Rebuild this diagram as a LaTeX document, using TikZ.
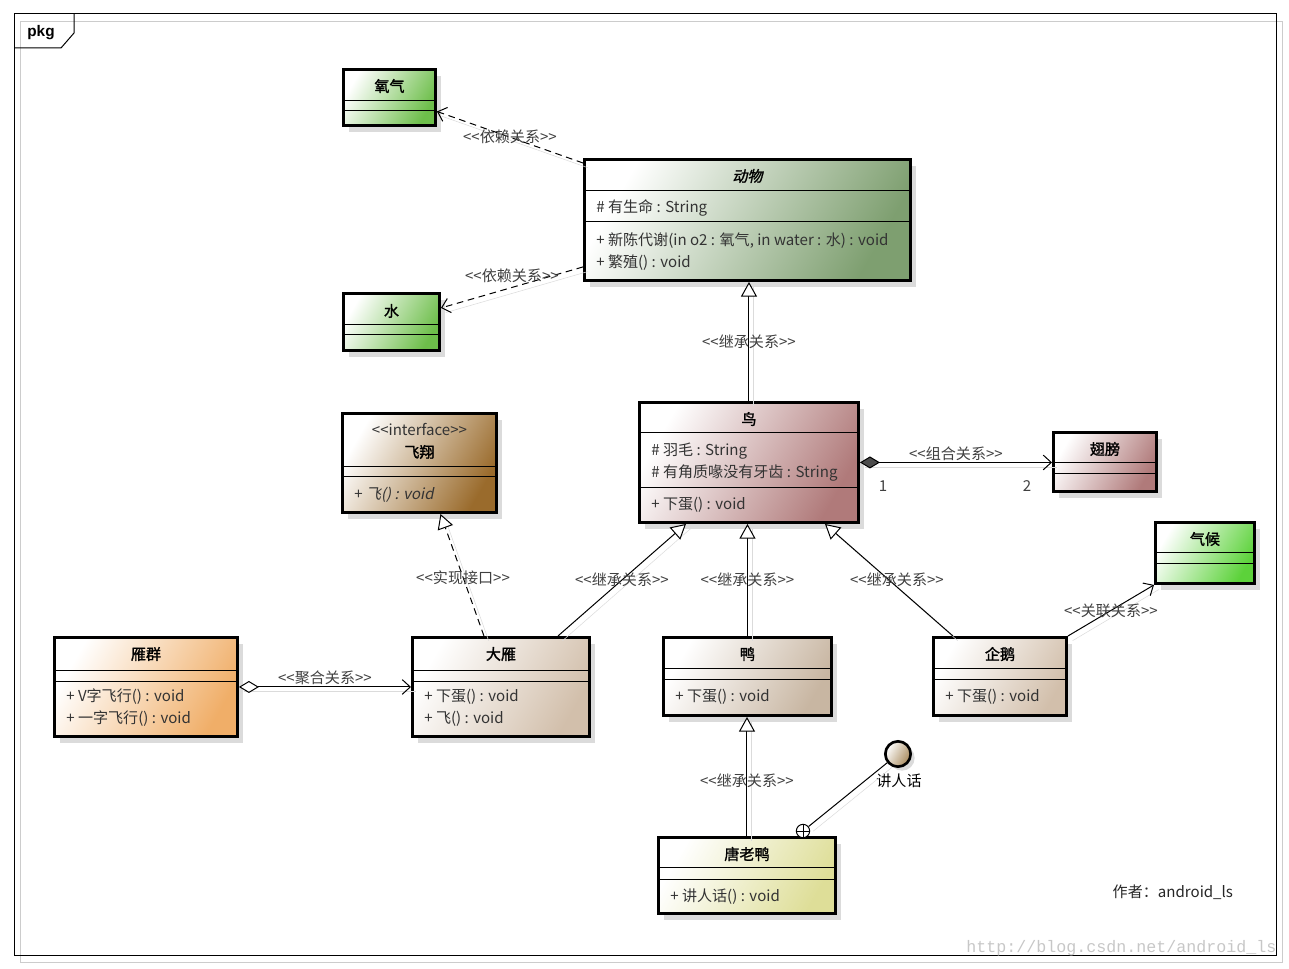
\documentclass[tikz,border=0pt]{standalone}
\usepackage{fontspec}
\setmainfont{Noto Sans CJK SC}[BoldFont={Noto Sans CJK SC}, BoldFeatures={FakeBold=1.5},
  ItalicFont={Noto Sans CJK SC}, ItalicFeatures={FakeSlant=0.2},
  BoldItalicFont={Noto Sans CJK SC}, BoldItalicFeatures={FakeBold=1.5,FakeSlant=0.2}]
\newfontfamily\markfont{Liberation Mono}
\newfontfamily\tagfont{Liberation Sans}
\usetikzlibrary{arrows.meta, calc, shadows}
\definecolor{umlGas}{HTML}{6DBE4A}
\definecolor{umlClimate}{HTML}{5CD23A}
\definecolor{umlAnimal}{HTML}{7E9F70}
\definecolor{umlFly}{HTML}{9A6B2C}
\definecolor{umlBird}{HTML}{B07A7A}
\definecolor{umlFlock}{HTML}{F0AE68}
\definecolor{umlGoose}{HTML}{D2BFAB}
\definecolor{umlDuck}{HTML}{C8B6A2}
\definecolor{umlDonald}{HTML}{DEDE98}
\definecolor{umlSpeak}{HTML}{A88A5C}
\newcommand\umlfont{\fontsize{11.3}{13}\selectfont}
\newcommand\stereo[1]{<\kern0pt<#1>\kern0pt>}
\tikzset{
    classbox/.style={draw=black, line width=2.2pt, inner sep=0pt, anchor=north west,
        left color=white, right color=#1, shading angle=60,
        drop shadow={shadow xshift=4.5pt, shadow yshift=-5pt, fill=black!14, opacity=1}},
    sepline/.style={line width=0.75pt},
    ctitle/.style={font=\umlfont\bfseries, inner sep=0pt},
    member/.style={anchor=west, inner sep=0pt, text=black!80},
    relname/.style={font=\umlfont, text=black!75, inner sep=1pt},
    wire/.style={line width=0.75pt, preaction={draw=black!14, -, transform canvas={shift={(3.5pt,-3.5pt)}}}},
    barb/.tip={Straight Barb[length=6pt, width=11pt]},
    depend/.style={wire, dash pattern=on 5pt off 3.5pt, -barb},
    inherit/.style={wire, -{Triangle[length=11pt, width=12pt, fill=white]}},
    realize/.style={inherit, dash pattern=on 5pt off 3.5pt},
    compose/.style={wire, {Diamond[length=15pt, width=9pt, fill=black!70]}-barb},
    aggregate/.style={wire, {Diamond[length=15pt, width=9pt, fill=white]}-barb},
    assoc/.style={wire, -barb},
    speakball/.style={circle, draw=black, line width=2pt, minimum size=19pt, inner sep=0pt,
        left color=white, right color=umlSpeak, shading angle=60,
        drop shadow={shadow xshift=3pt, shadow yshift=-3pt, fill=black!14, opacity=1}},
    nestmark/.style={circle, draw=black, line width=0.75pt, fill=white, minimum size=10pt, inner sep=0pt}
}
\begin{document}
\begin{tikzpicture}[x=0.75pt, y=-0.75pt, every node/.style={font=\umlfont}]
\useasboundingbox (0,0) rectangle (1289,969);
% package frame
\draw[black!20] (20,21) rectangle (1282,962);
\draw[line width=0.75pt] (14,14) rectangle (1276,955);
\draw[line width=0.75pt] (14,48) -- (61,48) -- (74,33) -- (74,14);
\node[font=\tagfont\bfseries\fontsize{11.5}{13}\selectfont] (pkg) at (41,33) {pkg};

% classes
\foreach \n/\x/\y/\w/\h/\c in {
    oxygen/342/68/95/59/umlGas, water/342/292/99/60/umlGas, climate/1154/521/102/64/umlClimate,
    animal/583/158/329/124/umlAnimal, fly/341/412/157/102/umlFly,
    bird/638/401/222/123/umlBird, wing/1052/431/106/62/umlBird,
    flock/53/636/186/102/umlFlock, goose/411/636/180/102/umlGoose,
    duck/662/636/171/81/umlDuck, penguin/932/636/136/81/umlGoose,
    donald/657/836/180/79/umlDonald}{
    \node[classbox=\c, minimum width=(\w-3)*0.75pt, minimum height=(\h-3)*0.75pt] (\n) at (\x,\y) {};
}
\foreach \n/\a/\b in {oxygen/101/111, water/325/335, climate/553/564, animal/191/222,
    fly/467/477, bird/433/488, wing/463/474, flock/670/681, goose/670/681,
    duck/668/679, penguin/668/679, donald/867/879}{
    \draw[sepline] (\n.west |- 0,\a) -- (\n.east |- 0,\a) (\n.west |- 0,\b) -- (\n.east |- 0,\b);
}
\foreach \n/\t/\y in {oxygen/氧气/86, water/水/311, climate/气候/539, bird/鸟/419, wing/翅膀/449,
    flock/雁群/654, goose/大雁/654, duck/鸭/654, penguin/企鹅/654, donald/唐老鸭/854}{
    \node[ctitle] (\n-t) at (\n.north |- 0,\y) {\t};
}
\node[ctitle, font=\umlfont\bfseries\itshape] (animal-t) at (animal.north |- 0,176) {动物};
\node[inner sep=0pt, text=black!80] (fly-s) at (fly.north |- 0,430) {\stereo{interface}};
\node[ctitle] (fly-t) at (fly.north |- 0,452) {飞翔};
\foreach \n/\y/\t in {
    animal/208/{\# 有生命 : String},
    animal/241/{+ 新陈代谢(in o2 : 氧气, in water : 水) : void},
    animal/263/{+ 繁殖() : void},
    fly/495/{+ \textit{飞() : void}},
    bird/451/{\# 羽毛 : String},
    bird/473/{\# 有角质喙没有牙齿 : String},
    bird/505/{+ 下蛋() : void},
    flock/697/{+ V字飞行() : void}, flock/719/{+ 一字飞行() : void},
    goose/697/{+ 下蛋() : void}, goose/719/{+ 飞() : void},
    duck/697/{+ 下蛋() : void}, penguin/697/{+ 下蛋() : void},
    donald/897/{+ 讲人话() : void}}{
    \node[member] (\n-\y) at ($(\n.west |- 0,\y)+(13,0)$) {\t};
}

% relations
\draw[depend] ($(animal.north west)+(0,5)$) -- node[relname] (rel-dep1) {\stereo{依赖关系}} ($(oxygen.east)+(0,14)$);
\draw[depend] ($(animal.south west)+(0,-15)$) -- node[relname, above, yshift=2pt] (rel-dep2) {\stereo{依赖关系}} ($(water.east)+(0,-14)$);
\draw[inherit] (bird.north) -- node[relname] (rel-gen1) {\stereo{继承关系}} (bird.north |- animal.south);
\draw[compose] (bird.east) -- node[relname, above] (rel-comp) {\stereo{组合关系}}
    node[relname, pos=0.12, below=12pt] (mult-bird) {1}
    node[relname, pos=0.87, below=12pt] (mult-wing) {2} (bird.east -| wing.west);
\draw[inherit] ($(goose.north)+(57,0)$) -- node[relname] (rel-gen2) {\stereo{继承关系}} ($(bird.south)+(-63,0)$);
\draw[inherit] (duck.north) -- node[relname] (rel-gen3) {\stereo{继承关系}} (duck.north |- bird.south);
\draw[inherit] ($(penguin.north)+(-47,0)$) -- node[relname, xshift=6pt] (rel-gen4) {\stereo{继承关系}} ($(bird.south)+(76,0)$);
\draw[realize] ($(goose.north)+(-17,0)$) -- node[relname, pos=0.48] (rel-real) {\stereo{实现接口}} ($(fly.south)+(21,0)$);
\draw[aggregate] (flock.east) -- node[relname, above] (rel-agg) {\stereo{聚合关系}} (flock.east -| goose.west);
\draw[assoc] (penguin.north east) -- node[relname] (rel-assoc) {\stereo{关联关系}} (climate.south west);
\draw[inherit] (donald.north) -- node[relname, pos=0.46] (rel-gen5) {\stereo{继承关系}} (donald.north |- duck.south);

% provided interface
\node[speakball] (speak) at (898,754) {};
\node[inner sep=0pt] (speak-t) at (899,781) {讲人话};
\node[nestmark] (nest) at (803,831) {};
\draw[wire] (nest) -- (speak);
\draw[line width=0.75pt] (nest.north) -- (nest.south) (nest.west) -- (nest.east);

\node[anchor=west, text=black!85] (author) at (1108,892) {作者：android\_ls};
\node[anchor=west, inner sep=0pt, text=black!22, font=\markfont\fontsize{12.5}{14}\selectfont] (mark) at (966,948) {http://blog.csdn.net/android\_ls};
\end{tikzpicture}
\end{document}
